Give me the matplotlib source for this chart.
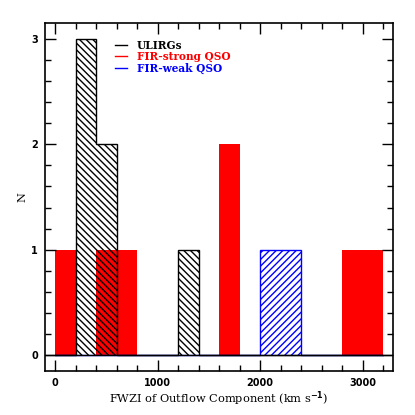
import matplotlib as mpl
mpl.use('Agg')
import matplotlib.pyplot as plt
from matplotlib.lines import Line2D
from matplotlib.ticker import MultipleLocator
import numpy as np

mpl.rcParams['font.family'] = 'DejaVu Serif'
mpl.rcParams['font.weight'] = 'bold'
mpl.rcParams['hatch.linewidth'] = 1.0

# histogram bin edges (km/s), width 200
bin_edges = np.arange(0, 3400, 200)
ulirgs = [0, 3, 2, 0, 0, 0, 1, 0, 0, 0, 0, 0, 0, 0, 0, 0]
fir_strong = [1, 0, 1, 1, 0, 0, 0, 0, 2, 0, 0, 0, 0, 0, 1, 1]
fir_weak = [0, 0, 0, 0, 0, 0, 0, 0, 0, 0, 1, 1, 0, 0, 0, 0]

fig = plt.figure(figsize=(4.15, 4.15), dpi=100)
ax = fig.add_axes([45 / 415, 1 - 370.7 / 415, 348.3 / 415, 347.4 / 415])

ax.stairs(fir_strong, bin_edges, fill=True, facecolor='red', edgecolor='red', lw=0, zorder=1)
ax.stairs(fir_weak, bin_edges, fill=True, facecolor='none', edgecolor='blue',
          hatch='/////', lw=1.0, zorder=2)
ax.stairs(ulirgs, bin_edges, fill=True, facecolor='none', edgecolor='black',
          hatch='\\\\\\\\\\', lw=1.0, zorder=3)

ax.axhline(0, color='black', lw=1.0, zorder=4)

ax.set_xlim(-100, 3300)
ax.set_ylim(-0.15, 3.15)
ax.xaxis.set_major_locator(MultipleLocator(1000))
ax.xaxis.set_minor_locator(MultipleLocator(200))
ax.yaxis.set_major_locator(MultipleLocator(1))
ax.yaxis.set_minor_locator(MultipleLocator(0.2))
ax.tick_params(which='both', direction='in', top=True, right=True, width=1.0)
ax.tick_params(which='major', length=8, labelsize=7, labelfontfamily='DejaVu Sans', pad=5)
ax.tick_params(which='minor', length=4)
for s in ax.spines.values():
    s.set_linewidth(1.2)

ax.set_xlabel(r'FWZI of Outflow Component (km s$^{-1}$)', fontsize=8.2, labelpad=1)
ax.set_ylabel('N', fontsize=8.2, labelpad=3)

handles = [Line2D([], [], color=c, lw=1.0) for c in ['black', 'red', 'blue']]
ax.legend(handles, ['ULIRGs', 'FIR-strong QSO', 'FIR-weak QSO'],
          loc='upper left', bbox_to_anchor=(0.175, 0.98), frameon=False,
          handlelength=1.1, handletextpad=0.9, labelspacing=0.02,
          fontsize=7.6, labelcolor=['black', 'red', 'blue'])

fig.savefig('out.png', dpi=100)
